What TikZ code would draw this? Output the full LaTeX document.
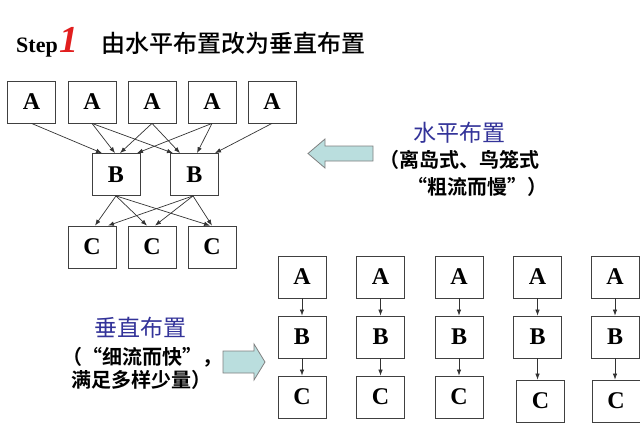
\documentclass[tikz,border=0pt]{standalone}
\usepackage{fontspec}
\setmainfont{Liberation Serif}
\newfontfamily\cjk[BoldFont={Noto Sans CJK SC Bold}]{Noto Sans CJK SC}
\newfontfamily\cjkmed{Noto Sans CJK SC Medium}
\usetikzlibrary{arrows.meta,positioning}

\definecolor{headblue}{RGB}{51,51,153}
\definecolor{arrowfill}{RGB}{186,222,222}
\definecolor{stepred}{RGB}{225,30,30}

\begin{document}
\begin{tikzpicture}[
    x=1pt, y=-1pt,
    box/.style={draw=black!75, line width=0.8pt, minimum width=48pt, minimum height=42pt, inner sep=0pt, font=\fontsize{24}{24}\selectfont\bfseries},
    link/.style={-{Latex[length=6pt, width=4.5pt]}, line width=0.7pt, black!80},
    bigarrow/.style={draw=gray, line width=0.8pt, fill=arrowfill},
    headline/.style={font=\fontsize{23}{23}\selectfont\cjk, text=headblue},
    note/.style={font=\fontsize{20}{20}\selectfont\cjk\bfseries, anchor=west, inner sep=0pt}
]
\useasboundingbox (0,0) rectangle (640,426);

% === Title ===
\node[anchor=base west, inner sep=0pt, font=\fontsize{22}{22}\selectfont\bfseries] (step) at (16,52) {Step};
\node[anchor=base west, inner sep=0pt, xshift=1pt, font=\fontsize{38}{38}\selectfont\bfseries\itshape, text=stepred] (stepnum) at (step.base east) {1};
\node[anchor=west, inner sep=0pt, font=\fontsize{24}{24}\selectfont\cjkmed] (title) at (101,43) {由水平布置改为垂直布置};

% === Horizontal layout: A -> B -> C crossing ===
\node[box] (a1) at (31.5,102) {A};
\node[box] (a2) at (92,102) {A};
\node[box] (a3) at (152,102) {A};
\node[box] (a4) at (212,102) {A};
\node[box] (a5) at (272,102) {A};

\node[box] (b1) at (116,174.5) {B};
\node[box] (b2) at (194.5,174.5) {B};

\node[box] (c1) at (92,247) {C};
\node[box] (c2) at (152,247) {C};
\node[box] (c3) at (212,247) {C};

% A to B
\draw[link] (a1.south) -- ([xshift=-14pt]b1.north);
\draw[link] (a2.south) -- ([xshift=-1pt]b1.north);
\draw[link] (a2.south) -- ([xshift=-21.5pt]b2.north);
\draw[link] (a3.south) -- ([xshift=4pt]b1.north);
\draw[link] (a3.south) -- ([xshift=-14.5pt]b2.north);
\draw[link] (a4.south) -- ([xshift=21pt]b1.north);
\draw[link] (a4.south) -- ([xshift=2.5pt]b2.north);
\draw[link] (a5.south) -- ([xshift=20.5pt]b2.north);

% B to C
\draw[link] (b1.south) -- ([xshift=3pt]c1.north);
\draw[link] (b1.south) -- ([xshift=-5pt]c2.north);
\draw[link] (b1.south) -- ([xshift=-2pt]c3.north);
\draw[link] ([xshift=-1.5pt]b2.south) -- ([xshift=16pt]c1.north);
\draw[link] ([xshift=-1.5pt]b2.south) -- ([xshift=3pt]c2.north);
\draw[link] ([xshift=-1.5pt]b2.south) -- (c3.north);

% Label
\draw[bigarrow] (308,153.5) -- (325,139) -- (325,146) -- (373,146) -- (373,161) -- (325,161) -- (325,168) -- cycle;
\node[headline] (hname) at (459,133) {水平布置};
\node[note, anchor=east] (hnote1) at (540,160) {（离岛式、鸟笼式};
\node[note, anchor=east] (hnote2) at (548,187) {“粗流而慢”）};

% === Vertical layout: five A -> B -> C chains ===
\node[box] (a6) at (302,277) {A};
\node[box] (a7) at (380.5,277) {A};
\node[box] (a8) at (459,277) {A};
\node[box] (a9) at (537.5,277) {A};
\node[box] (a10) at (615,277) {A};

\node[box] (b6) at (302,337) {B};
\node[box] (b7) at (380.5,337) {B};
\node[box] (b8) at (459,337) {B};
\node[box] (b9) at (537.5,337) {B};
\node[box] (b10) at (615,337) {B};

\node[box] (c6) at (302,397) {C};
\node[box] (c7) at (380.5,397) {C};
\node[box] (c8) at (459,397) {C};
\node[box] (c9) at (540.5,401) {C};
\node[box] (c10) at (616,401) {C};

\draw[link] (a6) -- (b6);
\draw[link] (a7) -- (b7);
\draw[link] (a8) -- (b8);
\draw[link] (a9) -- (b9);
\draw[link] (a10) -- (b10);

\draw[link] (b6) -- (c6);
\draw[link] (b7) -- (c7);
\draw[link] (b8) -- (c8);
\draw[link] (b9.south) -- (b9.south |- c9.north);
\draw[link] (b10.south) -- (b10.south |- c10.north);

% Label
\draw[bigarrow] (265,362) -- (254,344) -- (254,351) -- (223,351) -- (223,373) -- (254,373) -- (254,380) -- cycle;
\node[headline] (vname) at (140,328) {垂直布置};
\node[note] (vnote1) at (62,357) {（“细流而快”，};
\node[note] (vnote2) at (71,380) {满足多样少量）};

\end{tikzpicture}
\end{document}
